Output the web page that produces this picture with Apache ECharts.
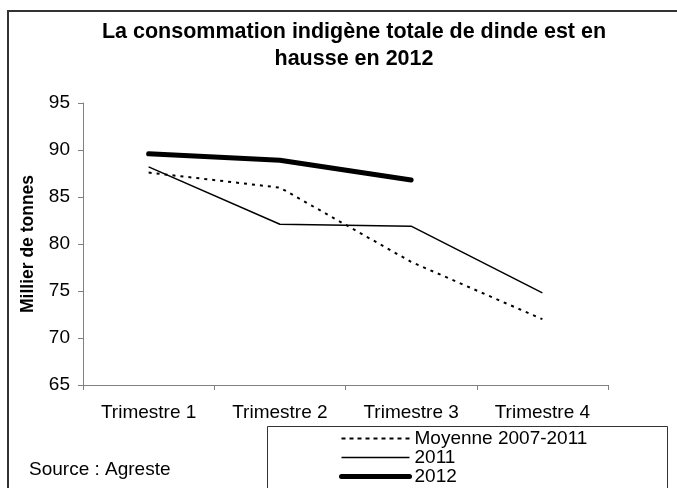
<!DOCTYPE html>
<html>
<head>
<meta charset="utf-8">
<script src="https://cdn.jsdelivr.net/npm/echarts@6/dist/echarts.min.js"></script>
<style>
  html, body { margin: 0; padding: 0; background: #fff; }
  #main { width: 677px; height: 488px; }
</style>
</head>
<body>
<div id="main"></div>
<script>
// données (milliers de tonnes)
var trimestres = ['Trimestre 1', 'Trimestre 2', 'Trimestre 3', 'Trimestre 4'];
var moyenne = [87.6, 86.0, 78.1, 72.0];
var annee2011 = [88.2, 82.1, 81.9, 74.8];
var annee2012 = [89.6, 88.9, 86.8];

var police = 'Liberation Sans, Arial, sans-serif';

var styleMoyenne = { color: '#000', width: 2, type: [3, 5] };
var style2011 = { color: '#000', width: 1.5 };
var style2012 = { color: '#000', width: 5, cap: 'round' };

var chart = echarts.init(document.getElementById('main'));
var option = {
    backgroundColor: '#fff',
    animation: false,
    color: ['#000', '#000', '#000'],
    textStyle: { fontFamily: police },
    title: {
        text: 'La consommation indigène totale de dinde est en\nhausse en 2012',
        left: 349,
        top: 14,
        textAlign: 'center',
        textStyle: {
            fontSize: 21.5,
            fontWeight: 'bold',
            color: '#000',
            lineHeight: 27,
            fontFamily: police
        }
    },
    grid: { left: 83, right: 69, top: 103, bottom: 103 },
    legend: {
        orient: 'vertical',
        left: 339,
        top: 429,
        height: 90,
        padding: 0,
        itemWidth: 68,
        itemHeight: 12,
        itemGap: 0,
        selectedMode: false,
        itemStyle: { opacity: 0 },
        textStyle: { fontSize: 19, color: '#000', fontFamily: police },
        data: [
            { name: 'Moyenne 2007-2011', lineStyle: { color: '#000', width: 2, type: [4, 4] } },
            { name: '2011', lineStyle: style2011 },
            { name: '2012', lineStyle: style2012 }
        ]
    },
    xAxis: {
        type: 'category',
        data: trimestres,
        boundaryGap: true,
        axisLine: { lineStyle: { color: '#808080', width: 1 } },
        axisTick: { show: true, length: 5, lineStyle: { color: '#808080' } },
        axisLabel: { fontSize: 19, color: '#000', margin: 18 }
    },
    yAxis: {
        type: 'value',
        min: 65,
        max: 95,
        interval: 5,
        name: 'Millier de tonnes',
        nameLocation: 'middle',
        nameGap: 46,
        nameTextStyle: { fontSize: 17.5, fontWeight: 'bold', color: '#000' },
        axisLine: { show: true, lineStyle: { color: '#808080', width: 1 } },
        axisTick: { show: true, length: 5, lineStyle: { color: '#808080' } },
        axisLabel: { fontSize: 19, color: '#000', margin: 13 },
        splitLine: { show: false }
    },
    graphic: [
        {
            type: 'rect',
            shape: { x: 8, y: 11, width: 690, height: 500 },
            style: { fill: null, stroke: '#333', lineWidth: 2 },
            silent: true
        },
        {
            type: 'rect',
            shape: { x: 267.5, y: 426.5, width: 400, height: 80 },
            style: { fill: null, stroke: '#333', lineWidth: 1 },
            silent: true
        },
        {
            type: 'text',
            left: 29,
            top: 460,
            style: { text: 'Source : Agreste', fill: '#000', font: '19px ' + police }
        }
    ],
    series: [
        {
            name: 'Moyenne 2007-2011',
            type: 'line',
            data: moyenne,
            symbol: 'none',
            lineStyle: styleMoyenne
        },
        {
            name: '2011',
            type: 'line',
            data: annee2011,
            symbol: 'none',
            lineStyle: style2011
        },
        {
            name: '2012',
            type: 'line',
            data: annee2012,
            symbol: 'none',
            lineStyle: style2012
        }
    ]
};
chart.setOption(option);
</script>
</body>
</html>
